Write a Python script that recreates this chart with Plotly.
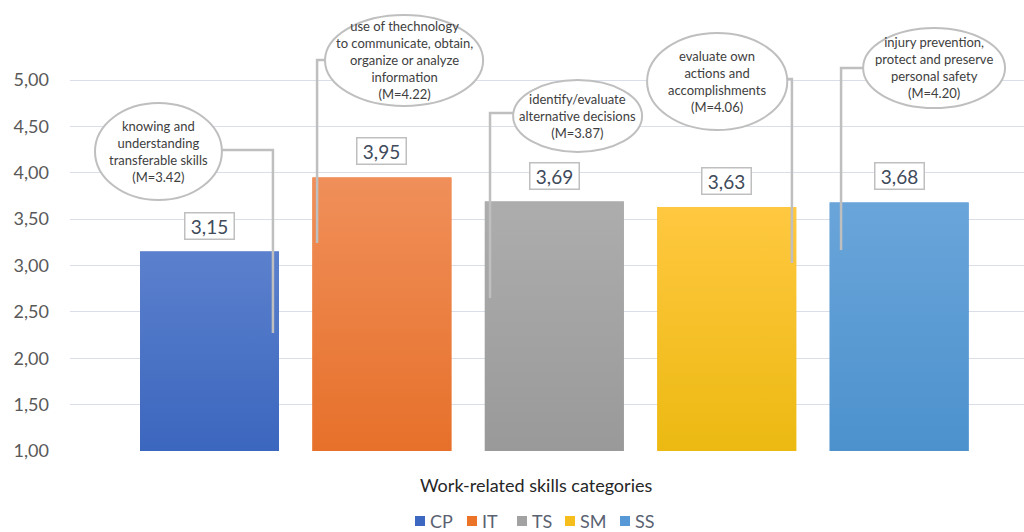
import plotly.graph_objects as go

# Mean scores per work-related skill category
categories = ["CP", "IT", "TS", "SM", "SS"]
means = [3.15, 3.95, 3.69, 3.63, 3.68]

# Callout descriptions and their overall means
callout_text = [
    "knowing and<br>understanding<br>transferable skills",
    "use of thechnology<br>to communicate, obtain,<br>organize or analyze<br>information",
    "identify/evaluate<br>alternative decisions",
    "evaluate own<br>actions and<br>accomplishments",
    "injury prevention,<br>protect and preserve<br>personal safety",
]
callout_means = [3.42, 4.22, 3.87, 4.06, 4.20]

y_ticks = [1.0, 1.5, 2.0, 2.5, 3.0, 3.5, 4.0, 4.5, 5.0]

# Bar colours: legend/solid colour, gradient top, gradient bottom
solid = ["#3d68c2", "#eb7428", "#a2a2a2", "#f6be1c", "#5798d6"]
top_col = ["#5b80cd", "#f08f5a", "#adadad", "#ffc840", "#6aa5da"]
bot_col = ["#2d5bb7", "#e3661a", "#929292", "#e4b400", "#418ac8"]

# Callout geometry (ellipse bounds and connector elbows), in axis units
ellipses = [
    (-0.664, 0.072, 3.706, 4.752),
    (0.670, 1.587, 4.720, 5.701),
    (1.761, 2.509, 4.224, 5.000),
    (2.538, 3.351, 4.461, 5.507),
    (3.791, 4.614, 4.698, 5.561),
]
connectors = [
    ((0.072, 4.245), (0.368, 4.245), (0.368, 2.272)),
    ((0.670, 5.216), (0.624, 5.216), (0.624, 3.243)),
    ((1.761, 4.644), (1.627, 4.644), (1.627, 2.650)),
    ((3.351, 5.011), (3.378, 5.011), (3.378, 3.027)),
    ((3.791, 5.129), (3.663, 5.129), (3.663, 3.167)),
]

# Legend row: left edge of each swatch, in page pixels
legend_left_px = [415, 467, 517, 565, 620]

W, H = 1024, 532
M_L, M_B = 70, 81
PLOT_W, PLOT_H = W - M_L, H - M_B
BAR_W = 0.806
FONT = "Lato"
GRAY = "#bfbfbf"


def px_x(px):
    return (px - M_L) / PLOT_W


def px_y(py):
    return (PLOT_H - py) / PLOT_H


fig = go.Figure()

for i, (cat, v) in enumerate(zip(categories, means)):
    fig.add_trace(go.Bar(
        x=[i], y=[v], width=BAR_W, name=cat,
        marker=dict(color=solid[i], line=dict(width=0)),
        hoverinfo="skip", showlegend=False,
    ))

# Vertical gradient overlay on each bar
for i, v in enumerate(means):
    x0, x1 = i - BAR_W / 2, i + BAR_W / 2
    fig.add_trace(go.Scatter(
        x=[x0, x1, x1, x0, x0], y=[0, 0, v, v, 0],
        mode="lines", line=dict(width=0), fill="toself",
        fillgradient=dict(type="vertical",
                          colorscale=[[0, bot_col[i]], [1, top_col[i]]]),
        showlegend=False, hoverinfo="skip",
    ))

shapes = []
for (a, b, c) in connectors:
    shapes.append(dict(
        type="path", xref="x", yref="y", layer="above",
        path=f"M {a[0]} {a[1]} L {b[0]} {b[1]} L {c[0]} {c[1]}",
        line=dict(color=GRAY, width=2.5),
    ))
for (x0, x1, y0, y1) in ellipses:
    shapes.append(dict(
        type="circle", xref="x", yref="y", layer="above",
        x0=x0, x1=x1, y0=y0, y1=y1,
        line=dict(color=GRAY, width=2), fillcolor="white",
    ))

# Legend swatches
leg_y = 521
for col, lx in zip(solid, legend_left_px):
    shapes.append(dict(
        type="rect", xref="paper", yref="paper", layer="above",
        x0=px_x(lx), x1=px_x(lx + 10),
        y0=px_y(leg_y + 5), y1=px_y(leg_y - 5),
        fillcolor=col, line=dict(width=0),
    ))

annotations = []
for i, v in enumerate(means):
    annotations.append(dict(
        x=i, y=v, xref="x", yref="y", yanchor="bottom", yshift=12,
        text=f"{v:.2f}".replace(".", ","), showarrow=False,
        font=dict(family=FONT, size=19, color="#404a5a"),
        bgcolor="white", bordercolor=GRAY, borderwidth=1.5,
        borderpad=2, width=44, height=21,
    ))
for (x0, x1, y0, y1), txt, m in zip(ellipses, callout_text, callout_means):
    annotations.append(dict(
        x=(x0 + x1) / 2, y=(y0 + y1) / 2, xref="x", yref="y",
        text=f"{txt}<br>(M={m:.2f})", showarrow=False,
        font=dict(family=FONT, size=13, color="#404040"),
        align="center",
    ))

# Axis title
annotations.append(dict(
    x=px_x(536), y=px_y(485), xref="paper", yref="paper",
    xanchor="center", yanchor="middle", showarrow=False,
    text="Work-related skills categories",
    font=dict(family=FONT, size=18, color="#262626"),
))

# Legend labels next to the swatches
for cat, lx in zip(categories, legend_left_px):
    annotations.append(dict(
        x=px_x(lx + 13), y=px_y(leg_y), xref="paper", yref="paper",
        xanchor="left", yanchor="middle", showarrow=False,
        text=cat, font=dict(family=FONT, size=18, color="#5a6272"),
    ))

fig.update_layout(
    width=W, height=H,
    margin=dict(l=M_L, r=0, t=0, b=M_B),
    paper_bgcolor="white", plot_bgcolor="white",
    barmode="overlay", separators=",.",
    font=dict(family=FONT), showlegend=False,
    shapes=shapes, annotations=annotations,
    xaxis=dict(range=[-0.809, 4.724], showticklabels=False, showgrid=False,
               zeroline=False, showline=False, ticks=""),
    yaxis=dict(range=[1, 5.8625], tickvals=y_ticks, tickformat=".2f",
               showgrid=True, gridcolor="#d9dee9", gridwidth=1,
               zeroline=False, showline=False, ticks="",
               ticklabelstandoff=20,
               tickfont=dict(family=FONT, size=18, color="#595959")),
)

fig.write_html("out.html")
